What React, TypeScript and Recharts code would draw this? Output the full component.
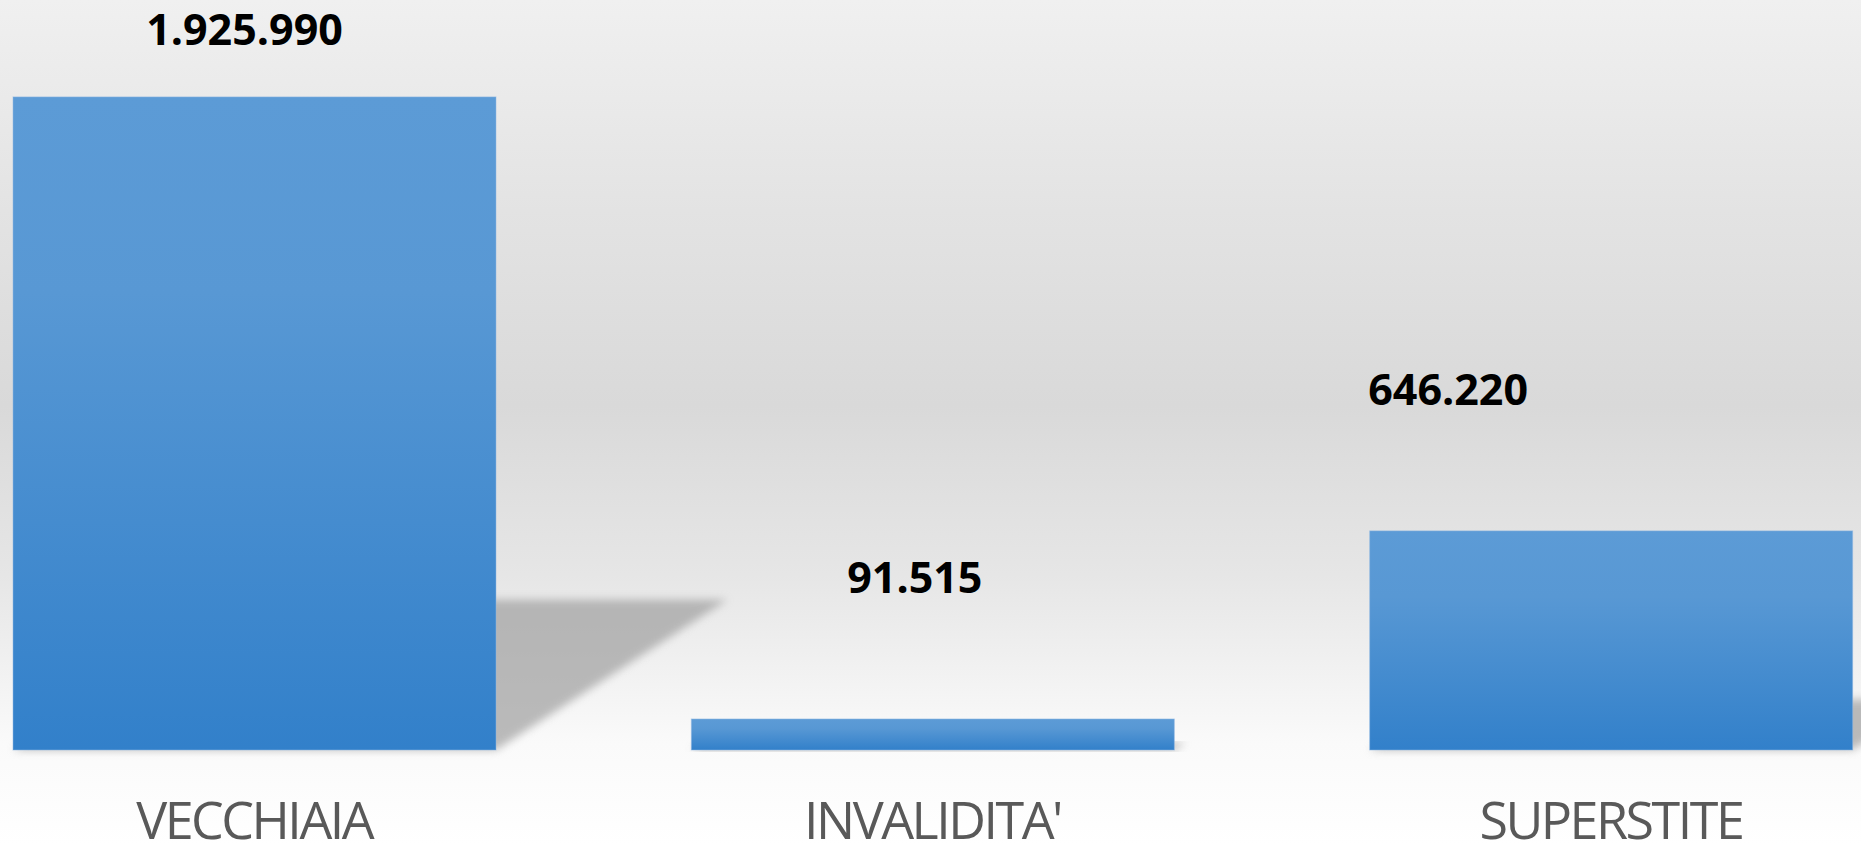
import React from 'react';
import { BarChart, Bar, XAxis, YAxis } from 'recharts';

const categories = ["VECCHIAIA", "INVALIDITA'", "SUPERSTITE"];
const pensioni = [1925990, 91515, 646220];
const valueLabels = ["1.925.990", "91.515", "646.220"];

const data = categories.map((c, i) => ({ name: c, value: pensioni[i], label: valueLabels[i] }));

// label placement styling (offset of label centre from bar centre / baseline from bar top)
const LABEL_DX = [-10, -18, -163];
const LABEL_DY = [-52, -126, -126];

const SHADOW_RATIO = 0.23;
const SHADOW_SKEW = 1.54;

const BarShape = (props: any) => {
  const { x, y, width, height, index, payload } = props;
  const yb = y + height;
  const sh = height * SHADOW_RATIO;
  const s = sh * SHADOW_SKEW;
  const pts = `${x},${yb} ${x + width},${yb} ${x + width + s},${yb - sh} ${x + s},${yb - sh}`;
  return (
    <g>
      <polygon points={pts} fill="#9a9a9a" opacity={0.66} filter="url(#shadowBlur)" />
      <rect x={x} y={y} width={width} height={height} fill="url(#barGrad)" stroke="#8fb8e3" strokeWidth={1} strokeOpacity={0.5} />
      <text
        x={x + width / 2 + LABEL_DX[index]}
        y={y + LABEL_DY[index]}
        textAnchor="middle"
        fontFamily="'Open Sans', 'Noto Sans', sans-serif"
        fontWeight={700}
        fontSize={43}
        fill="#000000"
      >
        {payload.label}
      </text>
    </g>
  );
};

const CategoryTick = (props: any) => {
  const { x, y, payload } = props;
  return (
    <text
      x={x}
      y={y}
      dy={89}
      textAnchor="middle"
      fontFamily="'Open Sans', 'Noto Sans', sans-serif"
      fontWeight={400}
      fontSize={52}
      letterSpacing={-2.5}
      fill="#595959"
    >
      {payload.value}
    </text>
  );
};

export default function App() {
  return (
    <div
      style={{
        position: 'absolute',
        left: 0,
        top: 0,
        width: 1861,
        height: 845,
        overflow: 'hidden',
        background:
          'linear-gradient(to bottom, #f0f0f0 0%, #e3e3e3 25%, #d9d9d9 48%, #e6e6e6 68%, #fafafa 88%, #ffffff 100%)',
      }}
    >
      <div style={{ position: 'absolute', left: -85, top: 0 }}>
        <BarChart
          width={2035}
          height={845}
          data={data}
          margin={{ top: 4, right: 0, bottom: 0, left: 0 }}
          barSize={483}
        >
          <defs>
            <linearGradient id="barGrad" x1="0" y1="0" x2="0" y2="1">
              <stop offset="0%" stopColor="#5c9bd6" />
              <stop offset="30%" stopColor="#5898d4" />
              <stop offset="100%" stopColor="#3280ca" />
            </linearGradient>
            <filter id="shadowBlur" x="-20%" y="-20%" width="140%" height="140%">
              <feGaussianBlur stdDeviation="4" />
            </filter>
          </defs>
          <YAxis hide domain={[0, 2200000]} />
          <XAxis
            dataKey="name"
            height={95}
            tickLine={false}
            axisLine={false}
            tickSize={0}
            tickMargin={0}
            interval={0}
            tick={<CategoryTick />}
          />
          <Bar dataKey="value" isAnimationActive={false} shape={<BarShape />} />
        </BarChart>
      </div>
    </div>
  );
}
